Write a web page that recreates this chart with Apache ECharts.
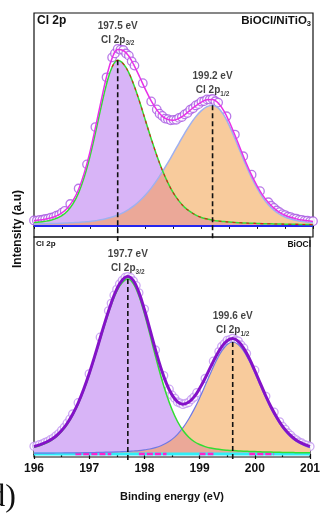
<!DOCTYPE html>
<html>
<head>
<meta charset="utf-8">
<script src="https://cdn.jsdelivr.net/npm/echarts@6/dist/echarts.min.js"></script>
<style>
  html, body { margin: 0; padding: 0; background: #ffffff; }
  #chart { width: 323px; height: 513px; }
</style>
</head>
<body>
<div id="chart"></div>
<script>
// Binding-energy grid of the fitted curves (eV)
const energy = [
  196.0, 196.1, 196.2, 196.3, 196.4, 196.5, 196.6, 196.7, 196.8, 196.9,
  197.0, 197.1, 197.2, 197.3, 197.4, 197.5, 197.6, 197.7, 197.8, 197.9,
  198.0, 198.1, 198.2, 198.3, 198.4, 198.5, 198.6, 198.7, 198.8, 198.9,
  199.0, 199.1, 199.2, 199.3, 199.4, 199.5, 199.6, 199.7, 199.8, 199.9,
  200.0, 200.1, 200.2, 200.3, 200.4, 200.5, 200.6, 200.7, 200.8, 200.9, 201.0
];

// BiOCl/NiTiO3 : fitted Cl 2p3/2 and Cl 2p1/2 components and their envelope (a.u.)
const compTop32 = [
  3.4, 3.9, 4.7, 5.8, 7.7, 10.6, 15.4, 22.8, 34.1, 50.1,
  70.7, 95.2, 121.4, 145.6, 163.2, 170, 166.4, 157.2, 143.1, 126.1,
  107.7, 89.5, 72.4, 57.1, 44.2, 33.6, 25.4, 19.0, 14.6, 11.1,
  8.7, 7.1, 5.9, 5.0, 4.4, 3.9, 3.5, 3.2, 2.9, 2.7,
  2.5, 2.3, 2.2, 2.0, 1.9, 1.8, 1.7, 1.6, 1.5, 1.4, 1.3
];
const compTop12 = [
  2.0, 2.1, 2.2, 2.4, 2.5, 2.7, 3.0, 3.3, 3.6, 4.1,
  4.6, 5.4, 6.2, 7.6, 9.1, 11.2, 13.7, 17.0, 21.0, 26.0,
  32.0, 38.8, 46.7, 55.4, 65.0, 74.9, 85.1, 95.1, 104.3, 112.2,
  118.4, 122.5, 124, 121.2, 113.9, 103.0, 89.8, 75.8, 62.0, 49.4,
  38.4, 29.1, 21.8, 16.2, 12.0, 9.1, 7.1, 5.6, 4.5, 3.8, 3.3
];
const envTop = [
  5.4, 6.0, 6.9, 8.2, 10.2, 13.3, 18.4, 26.1, 37.7, 54.2,
  75.3, 100.6, 127.6, 153.2, 172.3, 181.2, 180.1, 174.2, 164.1, 152.1,
  139.7, 128.3, 119.1, 112.5, 109.2, 108.5, 110.5, 114.1, 118.9, 123.3,
  127.1, 129.6, 129.9, 126.2, 118.3, 106.9, 93.3, 79.0, 64.9, 52.1,
  40.9, 31.4, 24.0, 18.2, 13.9, 10.9, 8.8, 7.2, 6.0, 5.2, 4.6
];
// BiOCl/NiTiO3 : measured spectrum
const obsTopE = [
  196.00, 196.05, 196.10, 196.15, 196.20, 196.25, 196.30, 196.35, 196.40, 196.45, 196.50, 196.55,
  196.65, 196.80, 196.95, 197.10, 197.30,
  197.40, 197.45, 197.50, 197.55, 197.60, 197.65, 197.70, 197.75, 197.80,
  197.95, 198.10,
  198.20, 198.25, 198.30, 198.35, 198.40, 198.45, 198.50, 198.55, 198.60, 198.65, 198.70, 198.75,
  198.80, 198.85, 198.90, 198.95, 199.00, 199.05, 199.10, 199.15, 199.20, 199.25, 199.30,
  199.45, 199.60, 199.75, 199.90, 200.05,
  200.20, 200.25, 200.30, 200.35, 200.40, 200.45, 200.50, 200.55, 200.60, 200.65, 200.70, 200.75,
  200.80, 200.85, 200.90, 200.95, 201.00
];
const obsTopI = [
  5.6, 5.5, 6.2, 6.3, 7.1, 7.4, 8.4, 9.0, 10.5, 11.4, 13.6, 15.4,
  22.5, 38.4, 63.2, 101.5, 152.6,
  173.0, 177.1, 181.8, 180.9, 180.6, 177.0, 174.8, 169.0, 164.6,
  146.5, 127.8,
  119.6, 115.2, 112.9, 110.2, 109.6, 108.4, 108.9, 109.0, 110.9, 111.8, 114.5, 116.0,
  119.3, 120.8, 123.7, 125.0, 127.5, 128.2, 129.9, 129.7, 130.3, 128.0, 126.6,
  112.6, 93.8, 71.5, 52.6, 35.7,
  24.3, 20.7, 18.5, 15.8, 14.1, 12.1, 11.1, 9.6, 9.0, 7.8, 7.4, 6.4,
  6.2, 5.4, 5.4, 4.7, 4.8
];

// BiOCl : fitted components and envelope (a.u.)
const compBot32 = [
  6.7, 8.3, 10.4, 13.2, 17.0, 22.4, 29.4, 38.6, 49.8, 63.4,
  79.1, 96.4, 114.6, 132.6, 149.2, 162.8, 171.5, 175, 170.4, 158.2,
  140.4, 119.6, 98.0, 77.5, 59.5, 44.5, 32.5, 23.5, 17.0, 12.5,
  9.5, 7.4, 6.0, 5.0, 4.3, 3.8, 3.4, 3.1, 2.8, 2.6,
  2.4, 2.2, 2.0, 1.9, 1.8, 1.6, 1.5, 1.4, 1.3, 1.3, 1.2
];
const compBot12 = [
  0.8, 0.8, 0.9, 0.9, 1.0, 1.0, 1.1, 1.1, 1.2, 1.3,
  1.4, 1.5, 1.6, 1.8, 1.9, 2.1, 2.4, 2.6, 3.0, 3.4,
  4.1, 5.0, 6.4, 8.3, 10.9, 14.6, 19.7, 26.3, 34.7, 44.6,
  56.0, 68.4, 81.1, 93.0, 102.8, 109.5, 112, 109.5, 102.8, 93.0,
  81.1, 68.4, 56.0, 44.6, 34.7, 26.3, 19.7, 14.6, 10.9, 8.3, 6.4
];
const envBot = [
  7.5, 9.1, 11.3, 14.1, 18.0, 23.4, 30.5, 39.7, 51.0, 64.7,
  80.5, 97.9, 116.2, 134.4, 151.1, 164.9, 173.9, 177.6, 173.4, 161.6,
  144.5, 124.6, 104.4, 85.8, 70.4, 59.1, 52.2, 49.8, 51.7, 57.1,
  65.5, 75.8, 87.1, 98.0, 107.1, 113.3, 115.4, 112.6, 105.6, 95.6,
  83.5, 70.6, 58.0, 46.5, 36.5, 27.9, 21.2, 16.0, 12.2, 9.6, 7.6
];
// BiOCl : measured spectrum
const obsBotE = [
  196.00, 196.05, 196.10, 196.15, 196.20, 196.25, 196.30, 196.35, 196.40, 196.45, 196.50, 196.55,
  196.60, 196.65, 196.70,
  196.80, 197.00, 197.20,
  197.35, 197.40, 197.45, 197.50, 197.55, 197.60, 197.65, 197.70, 197.75, 197.80, 197.85, 197.90,
  198.00, 198.20, 198.35,
  198.45, 198.50, 198.55, 198.60, 198.65, 198.70, 198.75, 198.80, 198.85, 198.90, 198.95,
  199.10, 199.25,
  199.35, 199.40, 199.45, 199.50, 199.55, 199.60, 199.65, 199.70, 199.75, 199.80, 199.85,
  200.00, 200.20, 200.35,
  200.45, 200.50, 200.55, 200.60, 200.65, 200.70, 200.75, 200.80, 200.85, 200.90, 200.95, 201.00
];
const obsBotI = [
  7.7, 8.1, 9.3, 10.0, 11.5, 12.5, 14.3, 15.8, 18.2, 20.4, 23.6, 26.7,
  30.8, 34.8, 40.0,
  51.3, 80.1, 116.8,
  143.2, 150.7, 158.8, 164.6, 170.0, 173.6, 176.5, 177.3, 176.3, 173.0, 168.4, 161.2,
  144.9, 104.0, 78.4,
  64.8, 58.8, 55.7, 52.0, 50.9, 49.6, 50.6, 51.5, 54.5, 56.9, 61.3,
  75.5, 92.8,
  102.4, 107.5, 110.1, 113.6, 114.3, 115.7, 114.0, 112.9, 109.0, 105.9, 100.5,
  83.8, 57.7, 41.8,
  32.2, 27.7, 24.6, 21.0, 18.7, 15.8, 14.2, 12.0, 11.0, 9.4, 8.7, 7.5
];

// Peak positions (eV) and spin-orbit labels
const peaksTop = [197.5, 199.2];
const peaksBot = [197.7, 199.6];
const peakSubs = ['3/2', '1/2'];

// Visible stretches of the dashed background line in the BiOCl panel (eV)
const bgDashBot = [[196.75, 197.4], [197.9, 198.4], [199.0, 199.25], [199.9, 200.35]];

const xTicks = [196, 197, 198, 199, 200, 201];

const FONT = 'Liberation Sans, Arial, sans-serif';
const yRange = [[-11.4, 218.6], [-3, 217]];

function panelSeries(gi, c32, c12, env, obsE, obsI, peaks, st) {
  const pts = a => energy.map((e, i) => [e, a[i]]);
  const overlap = energy.map((e, i) => [e, Math.min(c32[i], c12[i])]);
  const base = { xAxisIndex: gi, yAxisIndex: gi, silent: true };
  const area = (data, color) => Object.assign({}, base, {
    type: 'line', data, smooth: 0.4, symbol: 'none',
    lineStyle: { width: 0 }, areaStyle: { color: color, opacity: 1 }
  });
  const line = (data, color, width, type) => Object.assign({}, base, {
    type: 'line', data, smooth: 0.4, symbol: 'none',
    lineStyle: { color: color, width: width, type: type || 'solid' }
  });
  const s = [];
  s.push(area(pts(c32), '#d8b4f7'));
  s.push(area(pts(c12), '#f8cb9c'));
  s.push(area(overlap, '#eba898'));
  // background line
  s.push(line([[196, 0], [201, 0]], st.base, st.baseWidth));
  (st.bgDash || []).forEach(seg => {
    s.push(line([[seg[0], 0], [seg[1], 0]], '#ff22cc', 2.5, [6, 2]));
  });
  s.push(line(pts(c12), st.c12Line, st.c12Width));
  s.push(line(pts(c32), '#33dd33', 1.5));
  if (st.redOverlay) {
    // red fit trace showing on the high-energy flank of the 2p3/2 component
    s.push(line(pts(c32).filter(p => p[0] >= peaks[0] - 0.1), '#e01818', 1.1, [3, 4]));
  }
  // dashed peak markers, from each component maximum down past the frame
  const comps = [c32, c12];
  peaks.forEach((p, k) => {
    const top = Math.max.apply(null, comps[k]);
    s.push(Object.assign({}, base, {
      type: 'line', clip: false, symbol: 'none',
      data: [[p, top], [p, yRange[gi][0] - 4]],
      lineStyle: { color: '#111', width: 1.6, type: [5, 3] }
    }));
  });
  s.push(line(pts(env), st.envLine, st.envWidth));
  s.push(Object.assign({}, base, {
    type: 'scatter', symbol: 'circle', symbolSize: st.obsSize,
    data: obsE.map((e, i) => [e, obsI[i]]),
    itemStyle: { color: '#ffffff', borderColor: st.obsBorder, borderWidth: 1.3 }
  }));
  // peak annotations
  peaks.forEach((p, k) => {
    const top = Math.max.apply(null, comps[k]);
    s.push(Object.assign({}, base, {
      type: 'scatter', symbolSize: 1, itemStyle: { color: 'rgba(0,0,0,0)' },
      data: [[p, top]],
      label: {
        show: true, position: 'top', distance: st.labelDist[k],
        formatter: '{v|' + p.toFixed(1) + ' eV}\n{t|Cl 2p}{s|' + peakSubs[k] + '}',
        rich: {
          v: { fontFamily: FONT, fontSize: 10, fontWeight: 'bold', color: '#111', lineHeight: 14 },
          t: { fontFamily: FONT, fontSize: 10, fontWeight: 'bold', color: '#111', lineHeight: 14 },
          s: { fontFamily: FONT, fontSize: 6.5, fontWeight: 'bold', color: '#111', lineHeight: 8, verticalAlign: 'bottom' }
        }
      }
    }));
  });
  return s;
}

const series = [].concat(
  panelSeries(0, compTop32, compTop12, envTop, obsTopE, obsTopI, peaksTop, {
    base: '#2424ee', baseWidth: 2, c12Line: '#9fb0f0', c12Width: 1.5,
    envLine: '#e830e8', envWidth: 1.5, obsBorder: '#a858e2', obsSize: 8.5, redOverlay: true,
    labelDist: [13, 7]
  }),
  panelSeries(1, compBot32, compBot12, envBot, obsBotE, obsBotI, peaksBot, {
    base: '#30eef8', baseWidth: 3, bgDash: bgDashBot, c12Line: '#6f78e6', c12Width: 1.2,
    envLine: '#8412c8', envWidth: 3, obsBorder: '#c094f0', obsSize: 8,
    labelDist: [3, 4]
  })
);

const chart = echarts.init(document.getElementById('chart'), null, { renderer: 'canvas' });
chart.setOption({
  animation: false,
  backgroundColor: '#ffffff',
  grid: [
    { left: 34, right: 10, top: 13, height: 224, show: true, borderColor: '#111', borderWidth: 1.2 },
    { left: 34, right: 10, top: 237, height: 220, show: true, borderColor: '#111', borderWidth: 1.2 }
  ],
  xAxis: [
    {
      gridIndex: 0, type: 'value', min: 196, max: 201, interval: 0.5,
      axisLine: { show: true, lineStyle: { color: '#111', width: 1.2 } },
      axisTick: { show: true, inside: false, length: 3, lineStyle: { color: '#111' } },
      axisLabel: { show: false }, splitLine: { show: false }
    },
    {
      gridIndex: 1, type: 'value', min: xTicks[0], max: xTicks[xTicks.length - 1], interval: 1,
      axisLine: { show: true, lineStyle: { color: '#111', width: 1.2 } },
      axisTick: { show: true, inside: false, length: 5, lineStyle: { color: '#111', width: 1.2 } },
      minorTick: { show: true, splitNumber: 2, length: 3, lineStyle: { color: '#111', width: 1.2 } },
      axisLabel: { fontFamily: FONT, fontSize: 12, fontWeight: 'bold', color: '#111', margin: 6 },
      splitLine: { show: false },
      name: 'Binding energy (eV)', nameLocation: 'middle', nameGap: 34,
      nameTextStyle: { fontFamily: FONT, fontSize: 11, fontWeight: 'bold', color: '#111' }
    }
  ],
  yAxis: [
    { gridIndex: 0, type: 'value', min: yRange[0][0], max: yRange[0][1], show: false },
    { gridIndex: 1, type: 'value', min: yRange[1][0], max: yRange[1][1], show: false }
  ],
  graphic: [
    { type: 'text', left: 37, top: 15, silent: true,
      style: { text: 'Cl 2p', font: 'bold 12px ' + FONT, fill: '#111' } },
    { type: 'text', right: 12, top: 15, silent: true,
      style: { text: '{a|BiOCl/NiTiO}{b|3}', fill: '#111',
        rich: { a: { font: 'bold 11.5px ' + FONT, fill: '#111', lineHeight: 14 },
                b: { font: 'bold 7.5px ' + FONT, fill: '#111', lineHeight: 9, verticalAlign: 'bottom' } } } },
    { type: 'text', left: 36, top: 240, silent: true,
      style: { text: 'Cl 2p', font: 'bold 8px ' + FONT, fill: '#111' } },
    { type: 'text', right: 12, top: 240, silent: true,
      style: { text: 'BiOCl', font: 'bold 8.5px ' + FONT, fill: '#111' } },
    { type: 'text', x: 18, y: 229, rotation: Math.PI / 2, silent: true,
      style: { text: 'Intensity (a.u)', font: 'bold 12px ' + FONT, fill: '#111',
        textAlign: 'center', textVerticalAlign: 'middle' } },
    { type: 'text', x: 16, y: 514, silent: true,
      style: { text: '(d)', font: '32px Liberation Serif, serif', fill: '#111',
        textAlign: 'right', textVerticalAlign: 'bottom' } }
  ],
  series: series
});
</script>
</body>
</html>
